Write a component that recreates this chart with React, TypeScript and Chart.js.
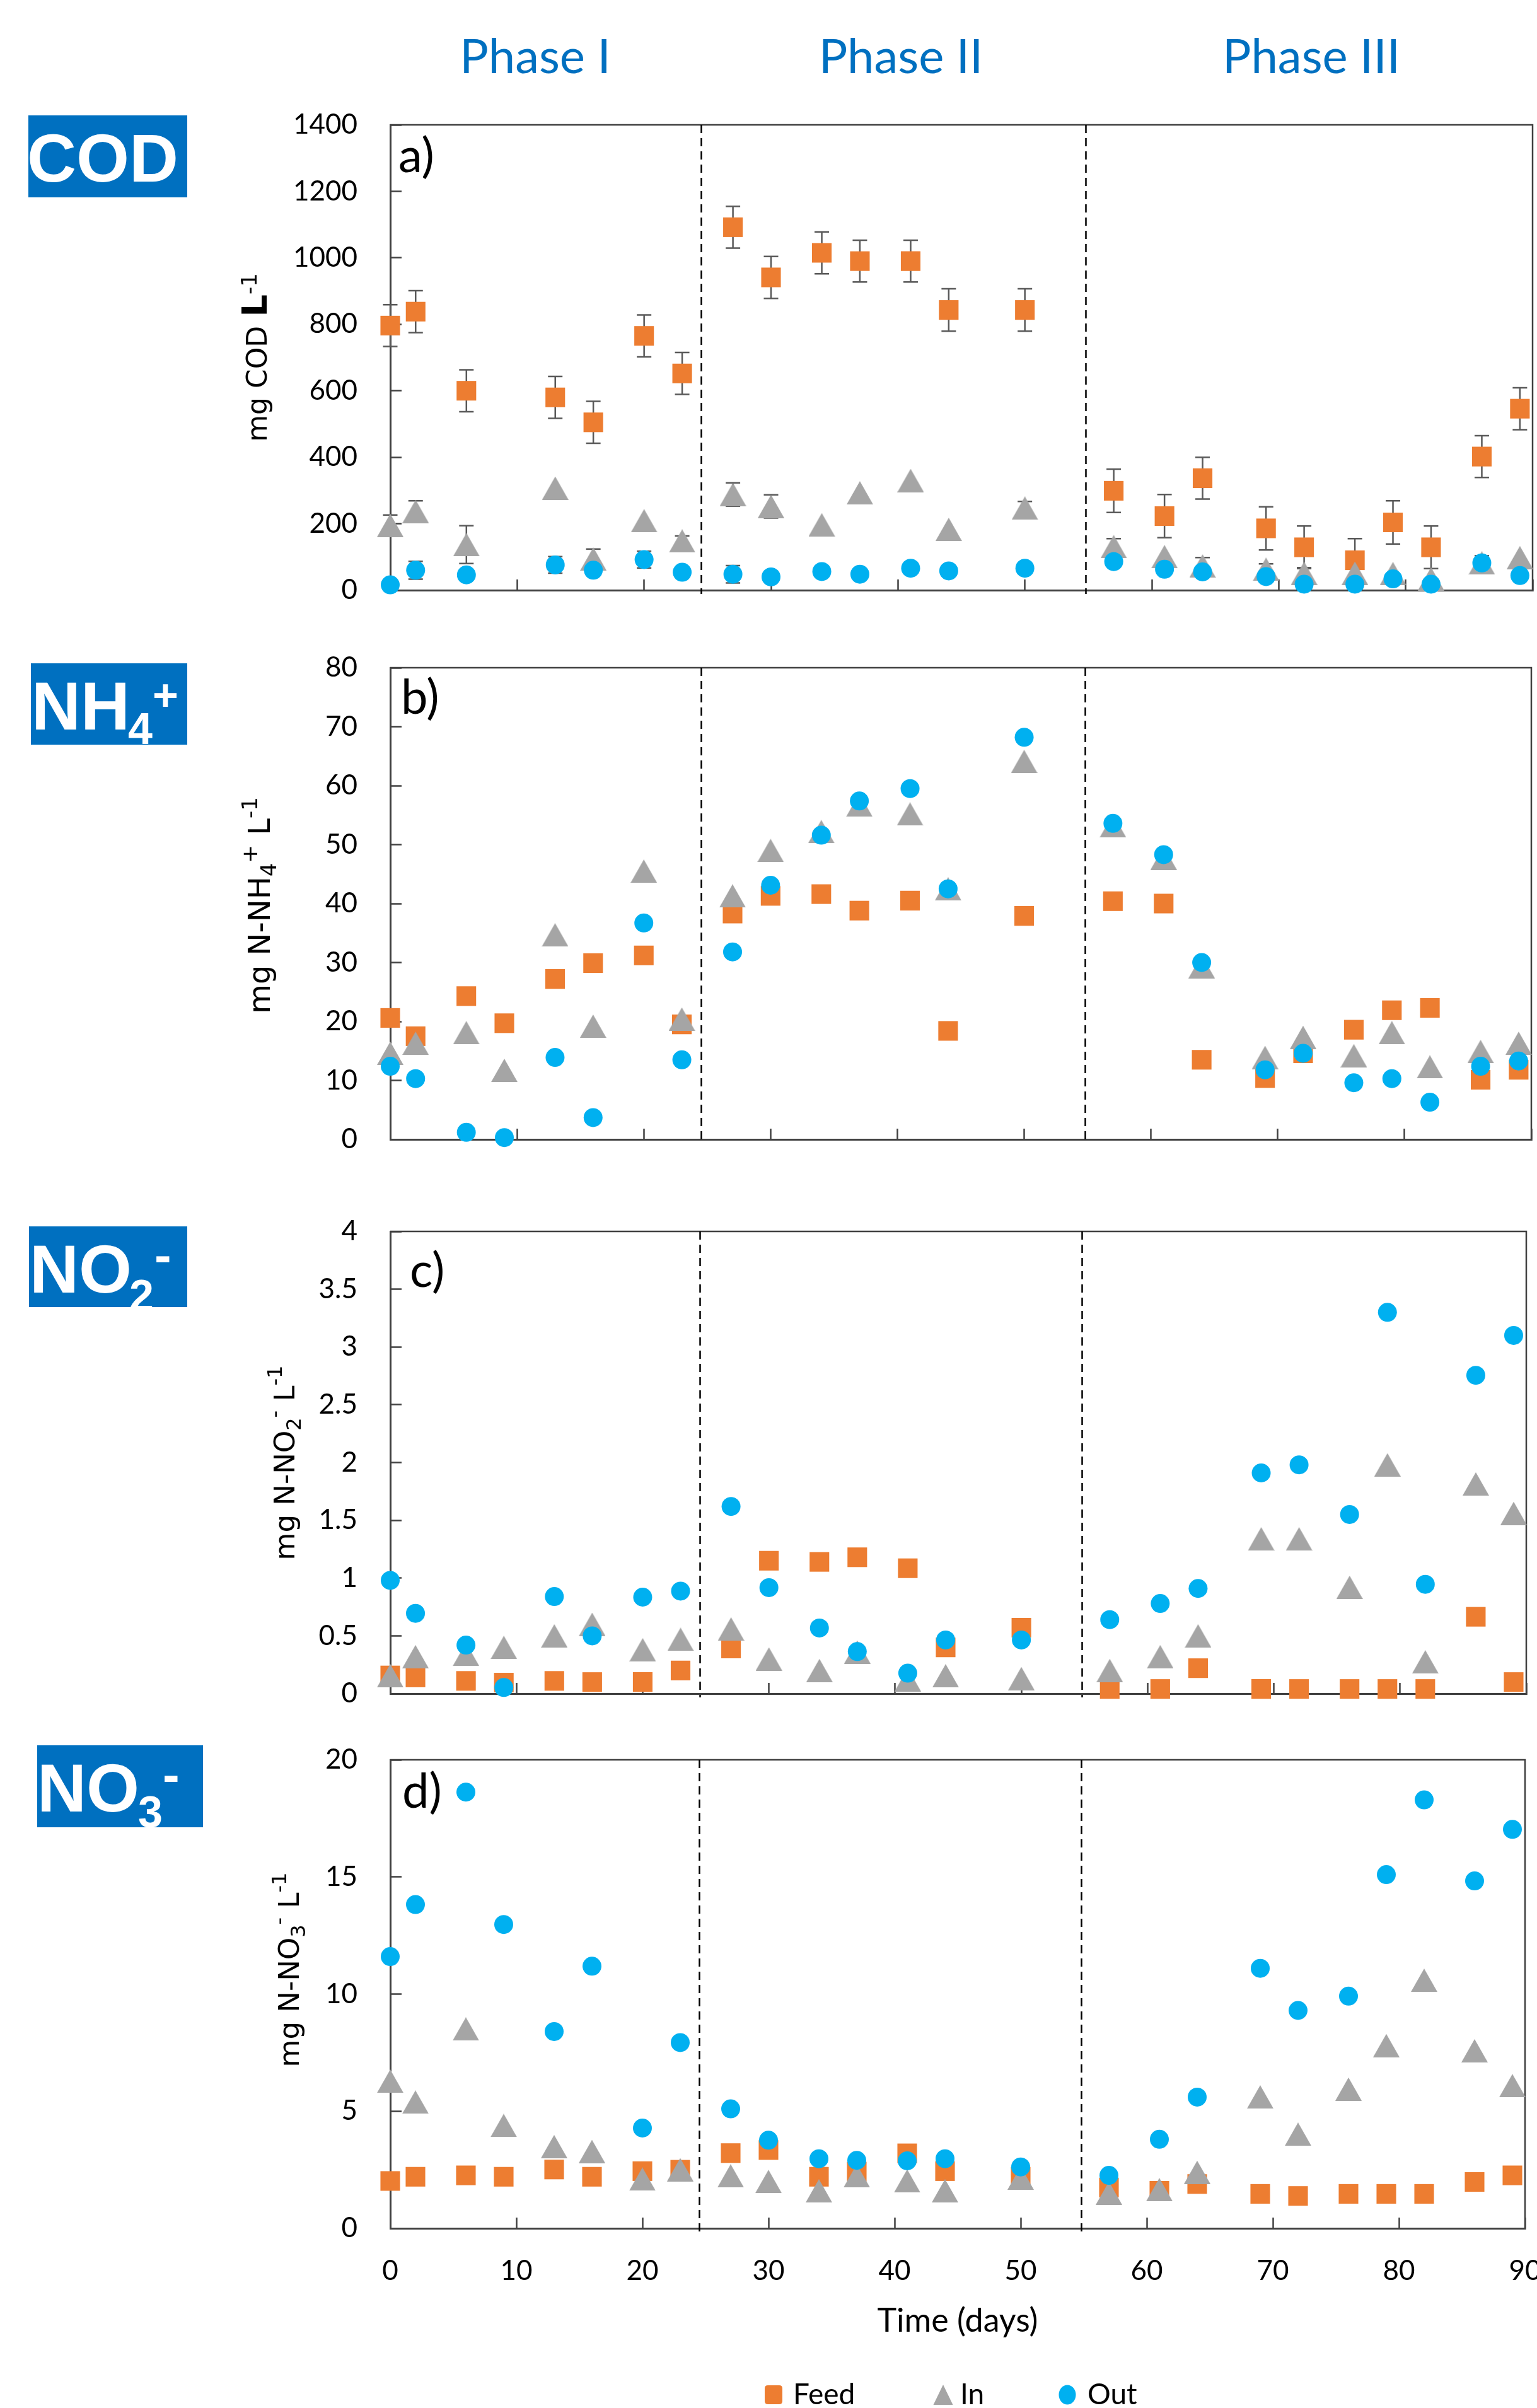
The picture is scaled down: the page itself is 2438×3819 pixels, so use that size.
import React, { useEffect, useRef } from "react";
import { Chart, registerables } from "chart.js";

Chart.register(...registerables);

// ---------------- data ----------------
const days = [0, 2, 6, 9, 13, 16, 20, 23, 27, 30, 34, 37, 41, 44, 50, 57, 61, 64, 69, 72, 76, 79, 82, 86, 89];
const phaseBounds = [24.5, 54.8];
const phaseLabels = ["Phase I", "Phase II", "Phase III"];
const seriesNames = ["Feed", "In", "Out"];
const xMax = 90;
const xStep = 10;

// a) COD (mg COD/L)
const codFeed = [796, 838, 600, null, 580, 505, 765, 652, 1092, 941, 1015, 990, 990, 843, 843, 299, 223, 337, 186, 129, 90, 204, 129, 402, 546];
const codFeedErr = [63, 63, 63, null, 63, 63, 63, 63, 63, 63, 63, 63, 63, 64, 64, 65, 65, 63, 65, 64, 65, 65, 64, 63, 63];
const codIn = [195, 237, 137, null, 307, 94, 209, 148, 288, 252, 197, 293, 330, 183, 247, 131, 101, 73, 63, 51, 51, 50, 34, 82, 98];
const codInErr = [31, 32, 57, null, 0, 30, 0, 15, 35, 35, 0, 0, 0, 0, 20, 24, 0, 25, 16, 17, 0, 0, 0, 22, 0];
const codOut = [16, 60, 46, null, 76, 60, 92, 54, 48, 40, 56, 48, 66, 58, 66, 86, 63, 55, 41, 18, 18, 34, 18, 82, 44];
const codOutErr = [0, 27, 0, null, 25, 0, 25, 0, 26, 0, 0, 0, 0, 0, 0, 0, 0, 0, 0, 0, 0, 0, 0, 0, 0];

// b) NH4+
const nh4Feed = [20.6, 17.5, 24.3, 19.7, 27.2, 29.9, 31.2, 19.5, 38.3, 41.3, 41.6, 38.8, 40.5, 18.4, 37.9, 40.4, 40.0, 13.5, 10.4, 14.6, 18.6, 21.9, 22.3, 10.1, 11.8];
const nh4In = [14.6, 16.3, 18.1, 11.7, 34.7, 19.2, 45.5, 20.4, 41.3, 49.0, 52.2, 56.7, 55.2, 42.5, 64.1, 53.2, 47.7, 29.3, 13.9, 17.3, 14.2, 18.1, 12.3, 14.9, 16.3];
const nh4Out = [12.4, 10.3, 1.2, 0.3, 13.9, 3.7, 36.7, 13.5, 31.8, 43.1, 51.6, 57.4, 59.5, 42.5, 68.2, 53.6, 48.3, 30.0, 11.8, 14.6, 9.6, 10.3, 6.3, 12.4, 13.3];

// c) NO2-
const no2Feed = [0.157, 0.14, 0.11, 0.095, 0.11, 0.1, 0.1, 0.2, 0.39, 1.15, 1.14, 1.18, 1.085, 0.4, 0.57, 0.04, 0.04, 0.22, 0.04, 0.04, 0.04, 0.04, 0.04, 0.665, 0.1];
const no2In = [0.155, 0.32, 0.34, 0.4, 0.5, 0.6, 0.38, 0.47, 0.56, 0.3, 0.2, 0.36, 0.12, 0.155, 0.13, 0.2, 0.32, 0.5, 1.34, 1.34, 0.92, 1.98, 0.275, 1.815, 1.56];
const no2Out = [0.98, 0.695, 0.42, 0.053, 0.84, 0.5, 0.835, 0.887, 1.62, 0.917, 0.568, 0.364, 0.177, 0.464, 0.464, 0.64, 0.78, 0.91, 1.91, 1.98, 1.55, 3.3, 0.946, 2.755, 3.1];

// d) NO3-
const no3Feed = [2.02, 2.2, 2.26, 2.2, 2.51, 2.2, 2.44, 2.5, 3.21, 3.34, 2.2, 2.42, 3.2, 2.44, 2.2, 1.74, 1.6, 1.89, 1.47, 1.38, 1.47, 1.47, 1.47, 1.98, 2.26];
const no3In = [6.28, 5.39, 8.51, 4.39, 3.49, 3.28, 2.1, 2.5, 2.24, 2.0, 1.6, 2.24, 2.02, 1.6, 2.14, 1.5, 1.65, 2.39, 5.61, 4.02, 5.94, 7.8, 10.59, 7.58, 6.09];
const no3Out = [11.6, 13.82, 18.62, 12.97, 8.4, 11.19, 4.28, 7.93, 5.1, 3.76, 2.97, 2.9, 2.88, 2.97, 2.62, 2.26, 3.8, 5.6, 11.1, 9.3, 9.91, 15.1, 18.29, 14.83, 17.03];

// ---------------- styling ----------------
const W = 2438;
const PLOT_LEFT = 619;
const FEED = "#ED7D31";
const IN = "#A5A5A5";
const OUT = "#00B0F0";
const BLUE = "#0070C0";
const AXIS = "#404040";
const ERR = "#595959";
const TICK_FONT = { family: "Lato", size: 44 };

type Num = number | null;
type Seg = { t: string; s: number; bold?: boolean; dy?: number };
type Txt = { t: string; x: number; base: number; s: number };
type Panel = {
  key: string;
  canvasTop: number;
  canvasH: number;
  plotTop: number;
  plotBottom: number;
  plotRight: number;
  xAxisH: number;
  yMax: number;
  yStep: number;
  feed: Num[];
  feedErr?: Num[];
  inn: Num[];
  innErr?: Num[];
  out: Num[];
  outErr?: Num[];
  letter: string;
  letterX: number;
  letterBase: number;
  title: Seg[];
  titleX: number;
  titleY: number;
  badge: { x: number; y: number; w: number; h: number; parts: Txt[] };
  showPhases: boolean;
  bottom: boolean;
};

const panels: Panel[] = [
  {
    key: "a", canvasTop: 0, canvasH: 1000, plotTop: 198, plotBottom: 936, plotRight: 2431, xAxisH: 30,
    yMax: 1400, yStep: 200,
    feed: codFeed, feedErr: codFeedErr, inn: codIn, innErr: codInErr, out: codOut, outErr: codOutErr,
    letter: "a)", letterX: 632, letterBase: 273,
    title: [{ t: "mg COD ", s: 44 }, { t: "L", s: 56, bold: true }, { t: "-1", s: 34, dy: -16 }],
    titleX: 407, titleY: 567,
    badge: { x: 45, y: 183, w: 252, h: 130, parts: [{ t: "COD", x: 43, base: 288, s: 108 }] },
    showPhases: true, bottom: false,
  },
  {
    key: "b", canvasTop: 1000, canvasH: 900, plotTop: 1059, plotBottom: 1807, plotRight: 2429, xAxisH: 30,
    yMax: 80, yStep: 10,
    feed: nh4Feed, inn: nh4In, out: nh4Out,
    letter: "b)", letterX: 636, letterBase: 1132,
    title: [{ t: "mg N-NH", s: 48 }, { t: "4", s: 34, dy: 10 }, { t: "+", s: 34, dy: -20 }, { t: " L", s: 48 }, { t: "-1", s: 34, dy: -20 }],
    titleX: 411, titleY: 1436,
    badge: {
      x: 49, y: 1052, w: 248, h: 129,
      parts: [{ t: "NH", x: 50, base: 1157, s: 108 }, { t: "4", x: 203, base: 1180, s: 70 }, { t: "+", x: 242, base: 1127, s: 70 }],
    },
    showPhases: false, bottom: false,
  },
  {
    key: "c", canvasTop: 1900, canvasH: 840, plotTop: 1953, plotBottom: 2686, plotRight: 2421, xAxisH: 30,
    yMax: 4, yStep: 0.5,
    feed: no2Feed, inn: no2In, out: no2Out,
    letter: "c)", letterX: 650, letterBase: 2041,
    title: [{ t: "mg N-NO", s: 45 }, { t: "2", s: 32, dy: 10 }, { t: "-", s: 32, dy: -20 }, { t: " L", s: 45 }, { t: "-1", s: 32, dy: -20 }],
    titleX: 451, titleY: 2320,
    badge: {
      x: 46, y: 1945, w: 251, h: 128,
      parts: [{ t: "NO", x: 47, base: 2050, s: 108 }, { t: "2", x: 205, base: 2079, s: 70 }, { t: "-", x: 245, base: 2018, s: 80 }],
    },
    showPhases: false, bottom: false,
  },
  {
    key: "d", canvasTop: 2740, canvasH: 1079, plotTop: 2791, plotBottom: 3534, plotRight: 2419, xAxisH: 178,
    yMax: 20, yStep: 5,
    feed: no3Feed, inn: no3In, out: no3Out,
    letter: "d)", letterX: 638, letterBase: 2867,
    title: [{ t: "mg N-NO", s: 45 }, { t: "3", s: 32, dy: 10 }, { t: "-", s: 32, dy: -20 }, { t: " L", s: 45 }, { t: "-1", s: 32, dy: -20 }],
    titleX: 458, titleY: 3124,
    badge: {
      x: 59, y: 2768, w: 263, h: 130,
      parts: [{ t: "NO", x: 59, base: 2873, s: 108 }, { t: "3", x: 219, base: 2898, s: 70 }, { t: "-", x: 258, base: 2842, s: 80 }],
    },
    showPhases: false, bottom: true,
  },
];

const phaseLabelX = [849, 1429, 2080];
const phaseLabelBase = 116;

// legend placement (absolute page coords)
const legendItems = [
  { name: seriesNames[0], color: FEED, shape: "rect", mx: 1227, tx: 1258 },
  { name: seriesNames[1], color: IN, shape: "tri", mx: 1496, tx: 1523 },
  { name: seriesNames[2], color: OUT, shape: "ellipse", mx: 1693, tx: 1725 },
];
const legendMarkerY = 3798;
const legendBase = 3813;

function makeTriangle(w: number, h: number, color: string) {
  const c = document.createElement("canvas");
  c.width = w;
  c.height = h;
  const g = c.getContext("2d")!;
  g.fillStyle = color;
  g.beginPath();
  g.moveTo(w / 2, 0);
  g.lineTo(w, h);
  g.lineTo(0, h);
  g.closePath();
  g.fill();
  return c;
}

function pts(vals: Num[], errs?: Num[]) {
  const out: { x: number; y: number; e: number }[] = [];
  days.forEach((d, i) => {
    const v = vals[i];
    if (v == null) return;
    out.push({ x: d, y: v, e: errs ? (errs[i] ?? 0) : 0 });
  });
  return out;
}

function drawRich(ctx: CanvasRenderingContext2D, segs: Seg[], cx: number, cy: number) {
  const fontOf = (s: Seg) => `${s.bold ? "bold " : ""}${s.s}px "DejaVu Sans"`;
  ctx.save();
  ctx.translate(cx, cy);
  ctx.rotate(-Math.PI / 2);
  ctx.fillStyle = "#000";
  ctx.textBaseline = "alphabetic";
  ctx.textAlign = "left";
  let total = 0;
  const widths = segs.map((s) => {
    ctx.font = fontOf(s);
    const w = ctx.measureText(s.t).width;
    total += w;
    return w;
  });
  const base = (segs[0].s * 0.729) / 2;
  let x = -total / 2;
  segs.forEach((s, i) => {
    ctx.font = fontOf(s);
    ctx.fillText(s.t, x, base + (s.dy || 0));
    x += widths[i];
  });
  ctx.restore();
}

function buildConfig(p: Panel, tri: HTMLCanvasElement): any {
  const off = p.canvasTop;
  const decor = {
    id: "decor_" + p.key,
    beforeDatasetsDraw(chart: any) {
      const { ctx, chartArea: a, scales } = chart;
      const xs = scales.x;
      const ys = scales.y;
      ctx.save();
      ctx.setLineDash([]);
      ctx.strokeStyle = AXIS;
      ctx.lineWidth = 2.5;
      ctx.beginPath();
      ctx.moveTo(a.left, a.top);
      ctx.lineTo(a.right, a.top);
      ctx.lineTo(a.right, a.bottom);
      ctx.stroke();
      ctx.setLineDash([13, 8]);
      ctx.strokeStyle = "#000";
      ctx.lineWidth = 2.5;
      phaseBounds.forEach((b) => {
        const x = Math.round(xs.getPixelForValue(b)) + 0.5;
        ctx.beginPath();
        ctx.moveTo(x, a.top);
        ctx.lineTo(x, a.bottom + 6);
        ctx.stroke();
      });
      ctx.setLineDash([]);
      ctx.strokeStyle = ERR;
      ctx.lineWidth = 2.5;
      chart.data.datasets.forEach((ds: any) => {
        (ds.data as any[]).forEach((pt) => {
          if (!pt.e) return;
          const x = xs.getPixelForValue(pt.x);
          const y1 = ys.getPixelForValue(pt.y - pt.e);
          const y2 = ys.getPixelForValue(pt.y + pt.e);
          ctx.beginPath();
          ctx.moveTo(x, y1);
          ctx.lineTo(x, y2);
          ctx.moveTo(x - 11.5, y1);
          ctx.lineTo(x + 11.5, y1);
          ctx.moveTo(x - 11.5, y2);
          ctx.lineTo(x + 11.5, y2);
          ctx.stroke();
        });
      });
      ctx.restore();
    },
    afterDraw(chart: any) {
      const { ctx } = chart;
      ctx.save();
      // badge
      const b = p.badge;
      ctx.fillStyle = BLUE;
      ctx.fillRect(b.x, b.y - off, b.w, b.h);
      ctx.save();
      ctx.beginPath();
      ctx.rect(b.x, b.y - off, b.w, b.h);
      ctx.clip();
      ctx.fillStyle = "#fff";
      ctx.textBaseline = "alphabetic";
      ctx.textAlign = "left";
      b.parts.forEach((t) => {
        ctx.font = `bold ${t.s}px "Liberation Sans", Arial, sans-serif`;
        ctx.fillText(t.t, t.x, t.base - off);
      });
      ctx.restore();
      // phase labels
      if (p.showPhases) {
        ctx.fillStyle = BLUE;
        ctx.font = `76px Lato`;
        ctx.textAlign = "center";
        ctx.textBaseline = "alphabetic";
        phaseLabels.forEach((t, i) => ctx.fillText(t, phaseLabelX[i], phaseLabelBase - off));
      }
      // panel letter
      ctx.fillStyle = "#000";
      ctx.font = `76px Lato`;
      ctx.textAlign = "left";
      ctx.textBaseline = "alphabetic";
      ctx.fillText(p.letter, p.letterX, p.letterBase - off);
      // y title
      drawRich(ctx, p.title, p.titleX, p.titleY - off);
      // legend
      if (p.bottom) {
        legendItems.forEach((it) => {
          const cy = legendMarkerY - off;
          ctx.fillStyle = it.color;
          ctx.beginPath();
          if (it.shape === "rect") {
            const w = 28, h = 30, r = 5;
            const x0 = it.mx - w / 2, y0 = cy - h / 2;
            ctx.moveTo(x0 + r, y0);
            ctx.lineTo(x0 + w - r, y0);
            ctx.quadraticCurveTo(x0 + w, y0, x0 + w, y0 + r);
            ctx.lineTo(x0 + w, y0 + h - r);
            ctx.quadraticCurveTo(x0 + w, y0 + h, x0 + w - r, y0 + h);
            ctx.lineTo(x0 + r, y0 + h);
            ctx.quadraticCurveTo(x0, y0 + h, x0, y0 + h - r);
            ctx.lineTo(x0, y0 + r);
            ctx.quadraticCurveTo(x0, y0, x0 + r, y0);
          } else if (it.shape === "tri") {
            ctx.moveTo(it.mx, cy - 16);
            ctx.lineTo(it.mx + 15.5, cy + 16);
            ctx.lineTo(it.mx - 15.5, cy + 16);
            ctx.closePath();
          } else {
            ctx.ellipse(it.mx, cy, 13.5, 15.5, 0, 0, Math.PI * 2);
          }
          ctx.fill();
          ctx.fillStyle = "#000";
          ctx.font = `46px Lato`;
          ctx.textAlign = "left";
          ctx.textBaseline = "alphabetic";
          ctx.fillText(it.name, it.tx, legendBase - off);
        });
      }
      ctx.restore();
    },
  };

  const gridOpts = (len: number) => ({
    display: true,
    drawOnChartArea: false,
    drawTicks: true,
    tickLength: len,
    tickWidth: 2.5,
    tickColor: AXIS,
  });
  const border = { display: true, color: AXIS, width: 3 };

  return {
    type: "scatter",
    data: {
      datasets: [
        {
          label: seriesNames[2],
          data: pts(p.out, p.outErr),
          pointStyle: "circle",
          pointRadius: 15,
          pointHoverRadius: 15,
          pointBackgroundColor: OUT,
          pointBorderWidth: 0,
          borderWidth: 0,
          order: 1,
          clip: false,
        },
        {
          label: seriesNames[1],
          data: pts(p.inn, p.innErr),
          pointStyle: tri,
          pointRadius: 20,
          pointHoverRadius: 20,
          pointBackgroundColor: IN,
          pointBorderWidth: 0,
          borderWidth: 0,
          order: 2,
          clip: false,
        },
        {
          label: seriesNames[0],
          data: pts(p.feed, p.feedErr),
          pointStyle: "rect",
          pointRadius: 22,
          pointHoverRadius: 22,
          pointBackgroundColor: FEED,
          pointBorderWidth: 0,
          borderWidth: 0,
          order: 3,
          clip: false,
        },
      ],
    },
    options: {
      responsive: false,
      maintainAspectRatio: false,
      animation: false,
      events: [],
      layout: {
        autoPadding: false,
        padding: {
          left: 0,
          right: W - p.plotRight,
          top: p.plotTop - p.canvasTop,
          bottom: p.canvasH - (p.plotBottom - p.canvasTop) - p.xAxisH,
        },
      },
      plugins: { legend: { display: false }, tooltip: { enabled: false } },
      scales: {
        x: {
          type: "linear",
          position: "bottom",
          min: 0,
          max: xMax,
          afterFit: (s: any) => {
            s.height = p.xAxisH;
            s.paddingLeft = 0;
            s.paddingRight = 0;
          },
          ticks: {
            stepSize: xStep,
            display: p.bottom,
            padding: 58,
            autoSkip: false,
            maxRotation: 0,
            font: TICK_FONT,
            color: "#000",
            callback: (v: any) => String(v),
          },
          grid: gridOpts(-17),
          border,
          title: {
            display: p.bottom,
            text: "Time (days)",
            font: { family: "Lato", size: 52 },
            color: "#000",
            padding: { top: 0, bottom: 0 },
          },
        },
        y: {
          type: "linear",
          min: 0,
          max: p.yMax,
          afterFit: (s: any) => {
            s.width = PLOT_LEFT;
            s.paddingTop = 0;
            s.paddingBottom = 0;
          },
          ticks: {
            stepSize: p.yStep,
            padding: 70,
            font: TICK_FONT,
            color: "#000",
            callback: (v: any) => String(v),
          },
          grid: gridOpts(-18),
          border,
        },
      },
    },
    plugins: [decor],
  };
}

function PanelChart({ p }: { p: Panel }) {
  const ref = useRef<HTMLCanvasElement>(null);
  useEffect(() => {
    const tri = makeTriangle(42, 37, IN);
    const chart = new Chart(ref.current!, buildConfig(p, tri));
    return () => chart.destroy();
  }, []);
  return (
    <canvas
      ref={ref}
      width={W}
      height={p.canvasH}
      style={{ position: "absolute", left: 0, top: p.canvasTop, width: W, height: p.canvasH, display: "block" }}
    />
  );
}

export default function App() {
  return (
    <div style={{ position: "absolute", left: 0, top: 0, width: W, height: 3819, background: "#fff", overflow: "hidden" }}>
      {panels.map((p) => (
        <PanelChart key={p.key} p={p} />
      ))}
    </div>
  );
}
